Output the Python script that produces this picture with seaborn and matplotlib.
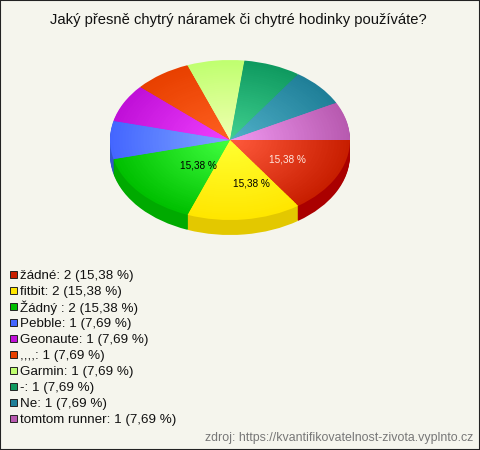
import matplotlib
matplotlib.use("Agg")
import matplotlib.pyplot as plt
from matplotlib.colors import to_rgb
from matplotlib.patches import Rectangle
import numpy as np
import seaborn as sns

title = "Jaký přesně chytrý náramek či chytré hodinky používáte?"
source = "zdroj: https://kvantifikovatelnost-zivota.vyplnto.cz"

names = ["žádné", "fitbit", "Žádný ", "Pebble", "Geonaute", ",,,,", "Garmin", "-", "Ne", "tomtom runner"]
counts = [2, 2, 2, 1, 1, 1, 1, 1, 1, 1]
shares = ["15,38", "15,38", "15,38", "7,69", "7,69", "7,69", "7,69", "7,69", "7,69", "7,69"]

rim_colors = ["#c81e00", "#ffe600", "#00c000", "#4466ff", "#c010d8",
              "#e84000", "#c0ff70", "#0f9a60", "#1f7f98", "#b85ab0"]
center_colors = ["#ff5a3c", "#ffff30", "#40ff40", "#80a8ff", "#f040ff",
                 "#ff6020", "#f0ffb0", "#40d090", "#50b0c8", "#f098f0"]
side_colors = ["#aa0000", "#e3c800", "#00aa00", "#3355cc", "#9010a8",
               "#b83000", "#98cc58", "#0c7a4c", "#186478", "#90468c"]

bg = "#f5f5ed"

sns.set_theme(style="white")
plt.rcParams["font.family"] = ["Liberation Sans", "DejaVu Sans"]

fig = plt.figure(figsize=(4.8, 4.5), dpi=100, facecolor=bg)
ax = fig.add_axes([0, 0, 1, 1], facecolor=bg)

# side of the pie, stacked copies going down
for off in np.arange(15, 0, -1):
    ax.pie(counts, colors=side_colors, startangle=0, counterclock=False, radius=1,
           center=(0, -off / 80), wedgeprops={"linewidth": 0})

# top face, shrinking rings give the gradient
steps = 40
for i in range(steps):
    t = i / (steps - 1)
    cols = [tuple(np.array(to_rgb(r)) * (1 - t) + np.array(to_rgb(c)) * t)
            for r, c in zip(rim_colors, center_colors)]
    ax.pie(counts, colors=cols, startangle=0, counterclock=False, radius=1 - i / steps,
           wedgeprops={"linewidth": 0})

ax.set_aspect("auto")
ax.set_xlim(-230 / 120, 250 / 120)
ax.set_ylim(-310 / 80, 140 / 80)
ax.axis("off")


def px(x, y):
    return x / 480, 1 - y / 450


ax.text(*px(238, 20), title, transform=ax.transAxes, ha="center", va="center",
        fontsize=10.6, color="#111111")
ax.text(*px(287, 159), shares[0] + " %", transform=ax.transAxes, ha="center", va="center",
        fontsize=7.2, color="#ffe8e0")
ax.text(*px(251, 184), shares[1] + " %", transform=ax.transAxes, ha="center", va="center",
        fontsize=7.2, color="black")
ax.text(*px(198, 166), shares[2] + " %", transform=ax.transAxes, ha="center", va="center",
        fontsize=7.2, color="black")
ax.text(*px(473, 438), source, transform=ax.transAxes, ha="right", va="center",
        fontsize=8.9, color="#777777")

# legend rows, 16 px apart
for i, (n, c, s, col) in enumerate(zip(names, counts, shares, rim_colors)):
    y = 274 + 16 * i
    x0, y0 = px(9.5, y + 3.5)
    ax.add_patch(Rectangle((x0, y0), 7 / 480, 7 / 450, transform=ax.transAxes,
                           facecolor=col, edgecolor="#222222", linewidth=0.7))
    ax.text(*px(20, y), f"{n}: {c} ({s} %)", transform=ax.transAxes, ha="left",
            va="center_baseline", fontsize=9.65, color="#111111")

# frame round the image
ax.add_patch(Rectangle((0, 0), 1, 1, transform=ax.transAxes, fill=False,
                       edgecolor="#222222", linewidth=1.5))

fig.savefig("out.png", dpi=100, facecolor=bg)
